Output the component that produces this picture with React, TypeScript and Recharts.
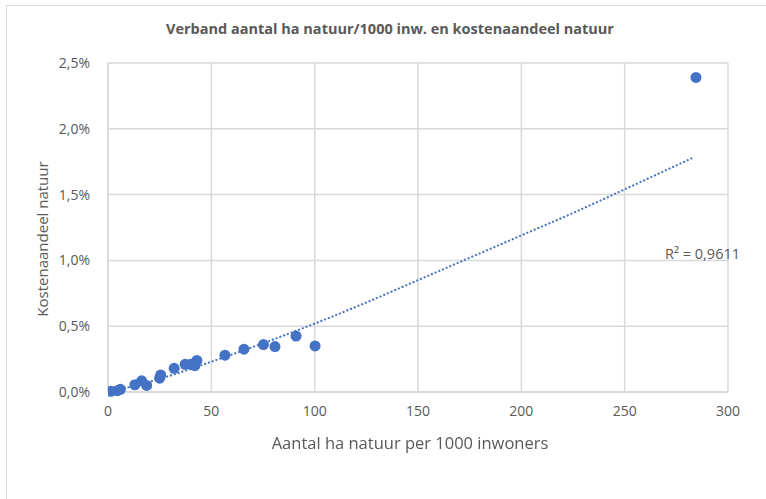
import React from 'react';
import { ComposedChart, Scatter, Line, XAxis, YAxis, CartesianGrid } from 'recharts';

// Gemeenten: ha natuur per 1000 inwoners vs kostenaandeel natuur (%)
const haPer1000 = [1.5, 4.5, 6, 13, 16.3, 18.7, 25, 25.5, 32, 37.3, 40, 42, 43, 56.6, 65.8, 75.2, 80.8, 91, 100.2, 284.5];
const kostenAandeel = [0.005, 0.01, 0.02, 0.055, 0.085, 0.05, 0.105, 0.13, 0.18, 0.21, 0.21, 0.2, 0.24, 0.28, 0.325, 0.36, 0.345, 0.425, 0.35, 2.39];

const trendX = [2, 25, 50, 75, 100, 125, 150, 175, 200, 225, 250, 283];
const trendY = [0.005, 0.1, 0.23, 0.37, 0.52, 0.68, 0.85, 1.02, 1.19, 1.36, 1.54, 1.78];

const xTicks = [0, 50, 100, 150, 200, 250, 300];
const yTicks = [0, 0.5, 1, 1.5, 2, 2.5];

const points = haPer1000.map((x, i) => ({ x, y: kostenAandeel[i] }));
const trend = trendX.map((x, i) => ({ x, y: trendY[i] }));

const FONT = '"Open Sans", sans-serif';
const GREY = '#595959';
const BLUE = '#4472C4';

const fmtPct = (v: number) => v.toFixed(1).replace('.', ',') + '%';

const Dot = (props: any) => <circle cx={props.cx} cy={props.cy} r={5.5} fill={BLUE} />;

const App: React.FC = () => {
  return (
    <div style={{ position: 'fixed', left: 0, top: 0, width: 766, height: 499, background: '#fff', fontFamily: FONT }}>
      <div style={{ position: 'absolute', left: 6, top: 5, width: 800, height: 600, border: '1px solid #d9d9d9' }} />
      <div style={{ position: 'absolute', left: 0, width: 780, top: 19, textAlign: 'center', fontWeight: 700, fontSize: 14.5, color: GREY }}>
        Verband aantal ha natuur/1000 inw. en kostenaandeel natuur
      </div>
      <ComposedChart width={766} height={499} margin={{ top: 63, right: 38, bottom: 77, left: 58 }}>
        <CartesianGrid stroke="#d9d9d9" strokeWidth={1.5} />
        <XAxis
          type="number"
          dataKey="x"
          domain={[0, 300]}
          ticks={xTicks}
          height={30}
          axisLine={{ stroke: '#d9d9d9', strokeWidth: 1.5 }}
          tickLine={false}
          tick={{ fill: GREY, fontSize: 14, fontFamily: FONT }}
          tickMargin={8}
          allowDataOverflow
        />
        <YAxis
          type="number"
          dataKey="y"
          domain={[0, 2.5]}
          ticks={yTicks}
          width={50}
          axisLine={{ stroke: '#d9d9d9', strokeWidth: 1.5 }}
          tickLine={false}
          tick={{ fill: GREY, fontSize: 14, fontFamily: FONT }}
          tickFormatter={fmtPct}
          tickMargin={12}
        />
        <Line
          data={trend}
          dataKey="y"
          type="monotone"
          stroke={BLUE}
          strokeWidth={2}
          strokeDasharray="2 2"
          dot={false}
          activeDot={false}
          isAnimationActive={false}
        />
        <Scatter data={points} dataKey="y" fill={BLUE} shape={Dot} isAnimationActive={false} />
      </ComposedChart>
      <div style={{ position: 'absolute', left: 0, width: 820, top: 431, textAlign: 'center', fontSize: 16.5, color: GREY }}>
        Aantal ha natuur per 1000 inwoners
      </div>
      <div
        style={{
          position: 'absolute',
          left: 42,
          top: 239,
          transform: 'translate(-50%, -50%) rotate(-90deg)',
          whiteSpace: 'nowrap',
          fontSize: 15,
          color: GREY,
        }}
      >
        Kostenaandeel natuur
      </div>
      <div style={{ position: 'absolute', left: 665, top: 244, fontSize: 14.5, color: GREY, whiteSpace: 'nowrap' }}>
        R² = 0,9611
      </div>
    </div>
  );
};

export default App;
